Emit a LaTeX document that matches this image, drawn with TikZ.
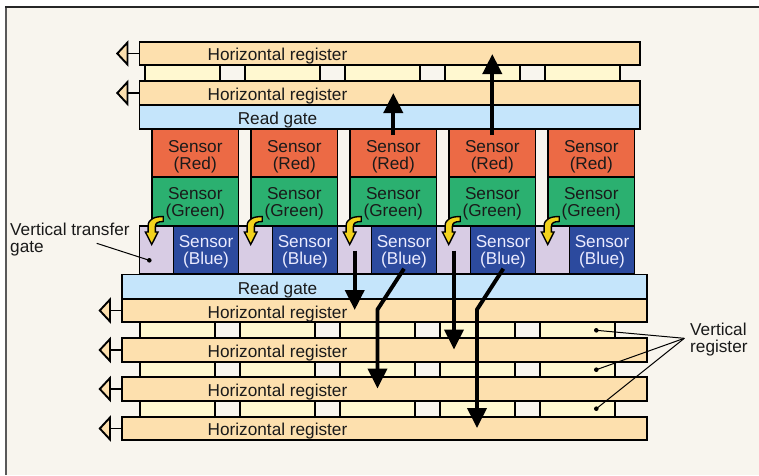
\documentclass[tikz,border=0pt]{standalone}
\usepackage{fontspec}
\setmainfont{Liberation Sans}
\usetikzlibrary{arrows.meta}
\definecolor{bgc}{HTML}{F8F5EE}
\definecolor{hrc}{HTML}{FDE0AE}
\definecolor{vrc}{HTML}{FFF8D0}
\definecolor{rgc}{HTML}{C5E5FB}
\definecolor{redc}{HTML}{EC6A45}
\definecolor{grnc}{HTML}{2BB070}
\definecolor{bluc}{HTML}{2C4A9E}
\definecolor{lilc}{HTML}{D8CCE4}
\definecolor{ylwc}{HTML}{F2D21C}
\definecolor{inkc}{HTML}{1A1A1A}
\tikzset{
  bx/.style={draw=black,line width=1.9pt,inner sep=0pt,outer sep=0pt,line join=miter},
  hreg/.style={bx,fill=hrc,minimum height=23.5pt},
  vreg/.style={bx,fill=vrc,minimum width=75pt},
  rgate/.style={bx,fill=rgc,minimum height=24pt},
  sred/.style={bx,fill=redc,minimum width=86.5pt,minimum height=48pt},
  sgrn/.style={bx,fill=grnc,minimum width=86.5pt,minimum height=48.5pt},
  sblu/.style={bx,fill=bluc,minimum width=65pt,minimum height=48pt},
  vtg/.style={bx,fill=lilc,minimum width=34pt,minimum height=48pt},
  txt/.style={font=\fontsize{17.2}{17}\selectfont,text=inkc,align=center,inner sep=0pt},
  wtxt/.style={txt,text=white!92!blue},
  sidetxt/.style={font=\fontsize{17.2}{17}\selectfont,text=inkc,align=left,inner sep=0pt},
  outline/.style={draw=black,line width=1.9pt},
  outhead/.style={draw=black,line width=1.9pt,fill=hrc,line join=miter},
  bigarrow/.style={draw=black,line width=3.9pt,line join=miter,-{Triangle[length=20pt,width=19pt]}},
  leader/.style={draw=black,line width=1pt},
  dotn/.style={circle,fill=black,inner sep=0pt,minimum size=4.6pt},
  yarrow/.style={draw=black,line width=1.4pt,fill=ylwc,line join=miter},
}
\begin{document}
\begin{tikzpicture}[x=1pt,y=-1pt]
\useasboundingbox (0,0) rectangle (759,475);
\fill[white] (0,0) rectangle (759,475);
\fill[bgc] (6,7) rectangle (759,475);
\draw[line width=1.6pt,black!65] (6,7) -- (6,475);
\draw[line width=1.6pt,black!85] (5.2,7) -- (759,7);

% vertical registers, top
\foreach \i in {0,...,4}{
  \pgfmathsetmacro{\cx}{182.5+100*\i}
  \node[vreg,minimum height=17pt] (vt\i) at (\cx,73) {};
}
% vertical registers, bottom
\foreach \r/\yy in {a/330,b/369.5,c/409}{
  \foreach \i in {0,...,4}{
    \pgfmathsetmacro{\cx}{177.5+100*\i}
    \node[vreg,minimum height=17pt] (vb\r\i) at (\cx,\yy) {};
  }
}

% horizontal registers, top
\node[hreg,minimum width=500.5pt] (hr1) at (389.75,53.5) {};
\node[hreg,minimum width=500.5pt] (hr2) at (389.75,93) {};
\node[rgate,minimum width=500.5pt] (rg1) at (389.75,117) {};
\node[txt] (hr1t) at (277.5,56.5) {Horizontal register};
\node[txt] (hr2t) at (277.5,96.5) {Horizontal register};
\node[txt] (rg1t) at (277.5,120) {Read gate};

% sensors
\foreach \i in {0,...,4}{
  \pgfmathsetmacro{\cx}{195.25+99*\i}
  \pgfmathsetmacro{\lx}{156.5+99*\i}
  \pgfmathsetmacro{\bx}{206+99*\i}
  \node[sred] (sr\i) at (\cx,153) {};
  \node[sgrn] (sg\i) at (\cx,201.25) {};
  \node[vtg] (vg\i) at (\lx,249.75) {};
  \node[sblu] (sb\i) at (\bx,249.75) {};
  \node[txt] (srt\i) at (\cx,156.5) {Sensor\\(Red)};
  \node[txt] (sgt\i) at (\cx,203.5) {Sensor\\(Green)};
  \node[wtxt] (sbt\i) at (\bx,252) {Sensor\\(Blue)};
}

% yellow transfer arrows
\foreach \i in {0,...,4}{
  \pgfmathsetmacro{\tx}{151.7+99*\i}
  \begin{scope}[shift={(\tx,246)}]
    \draw[yarrow] (0,-1.5) -- (-6.3,-14) -- (-3.6,-14) -- (-3.6,-20)
      .. controls (-3.6,-27) and (3,-29.5) .. (11.5,-29.5) -- (11.5,-24.5)
      .. controls (6,-24.5) and (3.6,-23) .. (3.6,-19) -- (3.6,-14) -- (6.3,-14) -- cycle;
  \end{scope}
}

% read gate and horizontal registers, bottom
\node[rgate,minimum width=525pt] (rg2) at (384.5,286.5) {};
\node[hreg,minimum width=525pt] (hr3) at (384.5,310.5) {};
\node[hreg,minimum width=525pt] (hr4) at (384.5,350) {};
\node[hreg,minimum width=525pt] (hr5) at (384.5,389) {};
\node[hreg,minimum width=525pt] (hr6) at (384.5,428.5) {};
\node[txt] (rg2t) at (277.5,290) {Read gate};
\node[txt] (hr3t) at (277.5,314.5) {Horizontal register};
\node[txt] (hr4t) at (277.5,353.5) {Horizontal register};
\node[txt] (hr5t) at (277.5,392.5) {Horizontal register};
\node[txt] (hr6t) at (277.5,431.5) {Horizontal register};

% output arrows
\foreach \k/\tx/\ty in {1/116/53.5,2/116/93,3/98.5/310.5,4/98.5/350,5/98.5/389,6/98.5/428.5}{
  \pgfmathsetmacro{\bsx}{\tx+11.5}
  \coordinate (ob\k) at (\bsx,\ty);
  \draw[outline] (hr\k.west) -- (ob\k);
  \draw[outhead] (\tx+1.3,\ty) -- (\bsx,\ty-11) -- (\bsx,\ty+11) -- cycle;
}

% charge-transfer arrows
\coordinate (ua1) at (393.3,135);
\coordinate (ua1e) at (393.3,93);
\coordinate (ua2) at (492.3,135);
\coordinate (ua2e) at (492.3,54);
\draw[bigarrow] (ua1) -- (ua1e);
\draw[bigarrow] (ua2) -- (ua2e);
\coordinate (da1) at (354.7,250.7);
\coordinate (da1e) at (354.7,310);
\coordinate (da2) at (454,250.7);
\coordinate (da2e) at (454,349.5);
\draw[bigarrow] (da1) -- (da1e);
\draw[bigarrow] (da2) -- (da2e);
\coordinate (ba1) at (404,268.7);
\coordinate (ba1m) at (377.5,309.5);
\coordinate (ba1e) at (377.5,388.5);
\coordinate (ba2) at (503.3,268.7);
\coordinate (ba2m) at (477,309.5);
\coordinate (ba2e) at (477,428);
\draw[bigarrow] (ba1) -- (ba1m) -- (ba1e);
\draw[bigarrow] (ba2) -- (ba2m) -- (ba2e);

% labels and leaders
\node[sidetxt,anchor=west] (vtgl) at (10,240) {Vertical transfer\\gate};
\coordinate (vtgs) at (96.7,243.3);
\node[dotn] (vtgd) at (149.3,260.3) {};
\draw[leader] (vtgs) -- (vtgd.center);
\node[sidetxt,anchor=west] (vrl) at (690,340) {Vertical\\register};
\coordinate (vrs) at (684.3,338.3);
\node[dotn] (vrd1) at (596.3,330.3) {};
\node[dotn] (vrd2) at (596.3,369.7) {};
\node[dotn] (vrd3) at (596.3,408.7) {};
\draw[leader] (vrs) -- (vrd1.center);
\draw[leader] (vrs) -- (vrd2.center);
\draw[leader] (vrs) -- (vrd3.center);
\end{tikzpicture}
\end{document}
